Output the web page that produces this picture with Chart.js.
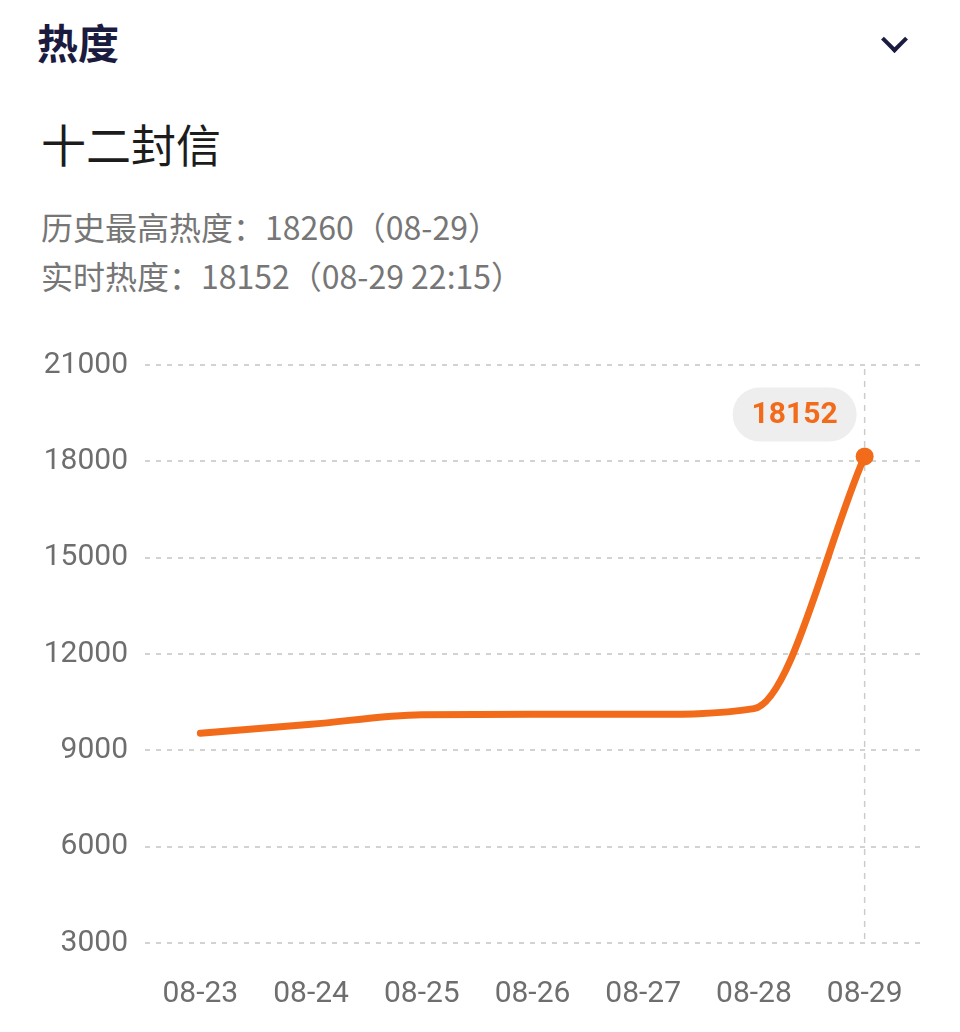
<!DOCTYPE html>
<html>
<head>
<meta charset="utf-8">
<script src="https://cdn.jsdelivr.net/npm/chart.js@4"></script>
<style>
  body { margin: 0; background: #fff; width: 960px; height: 1032px; overflow: hidden; position: relative; font-family: "Noto Sans CJK SC", "Noto Sans", sans-serif; }
  .head { position: absolute; left: 37px; top: 11px; font-size: 41px; font-weight: 700; color: #1b1b3f; line-height: 60px; }
  .chev { position: absolute; left: 885px; top: 30px; width: 15px; height: 15px; border-right: 4px solid #1b1b3f; border-bottom: 4px solid #1b1b3f; transform: rotate(45deg); }
  .title { position: absolute; left: 41px; top: 112px; font-size: 45px; color: #1c1c1c; line-height: 64px; }
  .sub { position: absolute; left: 41px; font-size: 32px; color: #767676; line-height: 46px; }
  .wrap { position: absolute; left: 0; top: 330px; width: 960px; height: 702px; }
</style>
</head>
<body>
<div class="head">热度</div>
<div class="chev"></div>
<div class="title">十二封信</div>
<div class="sub" style="top: 203px;">历史最高热度：18260（08-29）</div>
<div class="sub" style="top: 252px;">实时热度：18152（08-29 22:15）</div>
<div class="wrap"><canvas id="heatChart"></canvas></div>
<script>
(function () {
    const dates = ['08-23', '08-24', '08-25', '08-26', '08-27', '08-28', '08-29'];
    const heat = [9530, 9810, 10110, 10120, 10120, 10300, 18152];
    const yTicks = [3000, 6000, 9000, 12000, 15000, 18000, 21000];

    const orange = '#f26b1a';
    const lastIdx = heat.length - 1;

    // pill label + dashed guide for the latest point
    const latestMarker = {
        id: 'latestMarker',
        beforeDatasetsDraw(chart) {
            const pt = chart.getDatasetMeta(0).data[lastIdx];
            const ctx = chart.ctx;
            ctx.save();
            ctx.strokeStyle = '#cccccc';
            ctx.lineWidth = 1.5;
            ctx.setLineDash([6, 6]);
            ctx.beginPath();
            ctx.moveTo(pt.x, chart.chartArea.top + 4);
            ctx.lineTo(pt.x, chart.chartArea.bottom);
            ctx.stroke();
            ctx.restore();
        },
        afterDatasetsDraw(chart) {
            const pt = chart.getDatasetMeta(0).data[lastIdx];
            const ctx = chart.ctx;
            const cx = pt.x - 70, cy = pt.y - 42, w = 124, h = 54;
            ctx.save();
            ctx.fillStyle = '#eeeeee';
            ctx.beginPath();
            ctx.roundRect(cx - w / 2, cy - h / 2, w, h, h / 2);
            ctx.fill();
            ctx.fillStyle = orange;
            ctx.font = 'bold 30px Roboto, "Noto Sans", sans-serif';
            ctx.textAlign = 'center';
            ctx.textBaseline = 'middle';
            ctx.fillText(String(heat[lastIdx]), cx, cy + 1);
            ctx.restore();
        }
    };

    function renderChart() {
        const canvas = document.getElementById('heatChart');
        new Chart(canvas.getContext('2d'), {
            type: 'line',
            data: {
                labels: dates,
                datasets: [{
                    data: heat,
                    borderColor: orange,
                    backgroundColor: orange,
                    borderWidth: 7,
                    borderCapStyle: 'round',
                    cubicInterpolationMode: 'monotone',
                    pointRadius: heat.map((v, i) => i === lastIdx ? 9 : 0),
                    pointBackgroundColor: orange,
                    pointBorderWidth: 0
                }]
            },
            options: {
                responsive: true,
                maintainAspectRatio: false,
                animation: false,
                layout: { padding: { top: 34, right: 40, bottom: 0, left: 0 } },
                plugins: { legend: { display: false }, tooltip: { enabled: false } },
                scales: {
                    x: {
                        offset: true,
                        grid: { display: false, drawTicks: false },
                        border: { display: false },
                        ticks: {
                            color: '#6e6e6e',
                            font: { family: 'Roboto, "Noto Sans", sans-serif', size: 30 },
                            padding: 33,
                            maxRotation: 0
                        },
                        afterFit(scale) { scale.height = 89; }
                    },
                    y: {
                        min: yTicks[0],
                        max: yTicks[yTicks.length - 1],
                        afterBuildTicks(scale) { scale.ticks = yTicks.map(v => ({ value: v })); },
                        grid: { color: '#d2d2d2', lineWidth: 2, drawTicks: false },
                        border: { display: false, dash: [5, 6] },
                        ticks: {
                            color: '#6e6e6e',
                            font: { family: 'Roboto, "Noto Sans", sans-serif', size: 30 },
                            padding: 17,
                            callback: v => String(v)
                        },
                        afterFit(scale) { scale.width = 145; }
                    }
                }
            },
            plugins: [latestMarker]
        });
    }

    renderChart();
})();
</script>
</body>
</html>
